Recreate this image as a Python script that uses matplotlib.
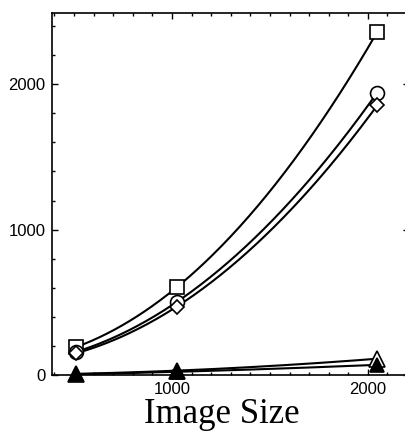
import numpy as np
import matplotlib
matplotlib.use("Agg")
from matplotlib import pyplot as plt
from matplotlib.ticker import MultipleLocator

# image sizes and timings
sizes = [512, 1024, 2048]
t_square = [193, 603, 2360]
t_circle = [160, 502, 1943]
t_diamond = [150, 470, 1855]
t_tri_open = [8, 30, 112]
t_tri_fill = [5, 22, 70]

series = [
    (t_square, "s", 9.5, "white"),
    (t_circle, "o", 10, "white"),
    (t_diamond, "D", 7, "white"),
    (t_tri_open, "^", 11.5, "white"),
    (t_tri_fill, "^", 10, "black"),
]

fig = plt.figure(figsize=(4.06, 4.36), dpi=100)
ax = fig.add_axes([52.5 / 406, 61 / 436, 356.5 / 406, 362 / 436])

xs = np.linspace(sizes[0], sizes[-1], 200)
for vals, mk, ms, fc in series:
    # smooth curve through the three points
    coef = np.polyfit(sizes, vals, 2)
    ax.plot(xs, np.polyval(coef, xs), "-", color="black", lw=1.5, zorder=2)
    ax.plot(sizes, vals, mk, ms=ms, mfc=fc, mec="black", mew=1.2,
            color="black", zorder=3, clip_on=False)

ax.set_xlim(390, 2210)
ax.set_ylim(0, 2490)
ax.xaxis.set_major_locator(MultipleLocator(1000))
ax.xaxis.set_minor_locator(MultipleLocator(100))
ax.yaxis.set_major_locator(MultipleLocator(1000))
ax.yaxis.set_minor_locator(MultipleLocator(200))
ax.tick_params(which="both", direction="in", top=True, right=True, width=1.0,
               labelsize=12, pad=5)
ax.tick_params(which="major", length=4)
ax.tick_params(which="minor", length=2.5)
for lab in ax.get_xticklabels() + ax.get_yticklabels():
    lab.set_fontfamily("Liberation Sans")
for sp in ax.spines.values():
    sp.set_linewidth(1.2)

ax.set_xlabel("Image Size", fontfamily="Liberation Serif", fontsize=25)
ax.xaxis.set_label_coords((222 - 52.5) / 356.5, -48 / 362, transform=ax.transAxes)
ax.xaxis.label.set_va("baseline")

fig.savefig("out.png", dpi=100)
